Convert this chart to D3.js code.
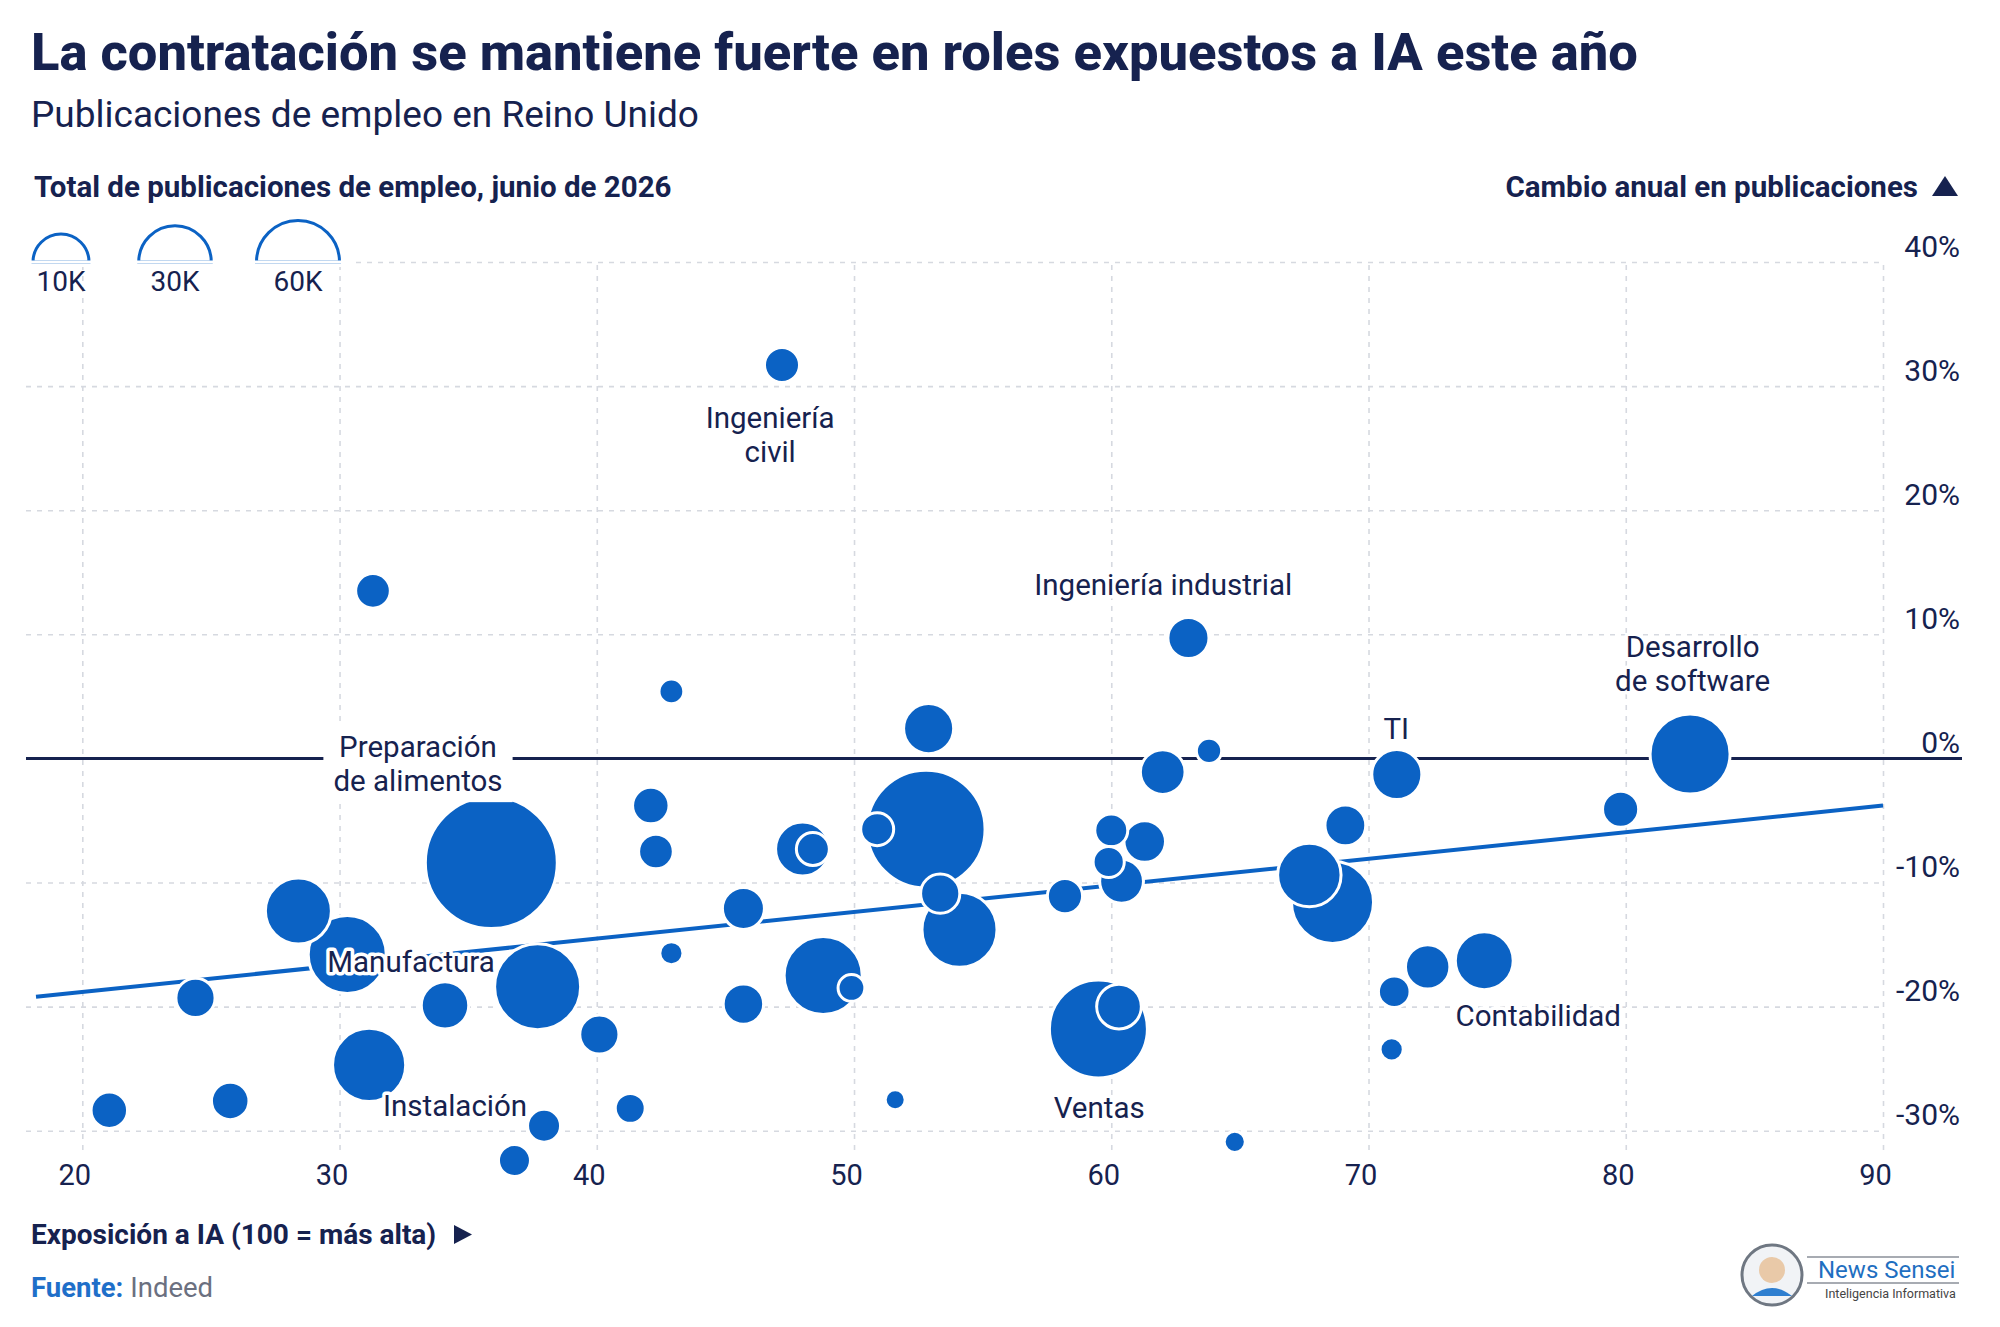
<!DOCTYPE html>
<html>
<head>
<meta charset="utf-8">
<script src="https://cdn.jsdelivr.net/npm/d3@7"></script>
<style>
  body { margin: 0; background: #fff; }
  svg text { font-family: Roboto, "Noto Sans", sans-serif; }
</style>
</head>
<body>
<svg id="chart" width="2000" height="1327"></svg>
<script>
// AI exposure score (x), yearly change in postings % (y), postings in thousands (size)
var exposure = [47.2, 31.3, 63.0, 42.9, 52.9, 63.8, 62.0, 71.1, 82.5, 79.8,
                42.1, 42.3, 48.0, 48.4, 52.8, 50.9, 53.35, 54.1, 35.9, 28.4,
                30.3, 24.4, 34.1, 37.7, 40.1, 31.15, 21.05, 25.75, 41.3, 37.95,
                36.8, 42.9, 45.7, 45.7, 48.8, 49.9, 51.6, 64.8, 59.5, 60.3,
                58.2, 60.0, 61.3, 59.9, 60.4, 69.1, 67.7, 68.6, 72.3, 74.5,
                71.0, 70.9];
var change = [31.7, 13.5, 9.7, 5.4, 2.4, 0.6, -1.1, -1.3, 0.35, -4.1,
              -3.8, -7.5, -7.3, -7.3, -5.7, -5.7, -10.9, -13.8, -8.4, -12.3,
              -15.8, -19.3, -19.9, -18.4, -22.25, -24.7, -28.35, -27.6, -28.2, -29.6,
              -32.4, -15.7, -12.1, -19.8, -17.5, -18.5, -27.5, -30.9, -21.8, -20.0,
              -11.1, -5.8, -6.7, -8.35, -9.9, -5.4, -9.4, -11.6, -16.8, -16.3,
              -18.8, -23.45];
var posts = [4.8, 4.7, 6.6, 2.4, 9.8, 2.5, 7.8, 9.8, 25, 5.1,
             5.2, 4.7, 11.4, 4.25, 54.4, 4.25, 6.0, 22, 68, 17,
             23.8, 6.0, 8.8, 28.9, 6.0, 20.9, 5.2, 5.5, 3.5, 4.25,
             4.0, 2.1, 6.9, 6.4, 23.8, 2.8, 1.56, 1.75, 37.5, 7.8,
             4.84, 4.25, 6.75, 3.8, 7.5, 6.5, 15.7, 26.3, 7.7, 13.1,
             3.9, 2.1];

var xTicks = [20, 30, 40, 50, 60, 70, 80, 90];
var yTicks = [-30, -20, -10, 0, 10, 20, 30, 40];
var sizeLegend = [10, 30, 60];

// fitted trend line
var trendX = [18.2, 90];
var trendY = [-19.2, -3.8];

// role annotations, anchored in data space (centre x, first baseline y)
var labelText = [["Ingeniería", "civil"], ["Ingeniería industrial"], ["Desarrollo", "de software"],
                 ["TI"], ["Preparación", "de alimentos"], ["Manufactura"], ["Instalación"],
                 ["Ventas"], ["Contabilidad"]];
var labelX = [46.74, 62.02, 82.6, 71.08, 33.05, 32.78, 34.49, 59.53, 76.6];
var labelY = [26.6, 13.17, 8.17, 1.56, 0.1, -17.2, -28.8, -29.0, -21.6];
var labelBox = [false, false, false, false, true, false, false, false, false];

var navy = '#16224f',
    blue = '#0b62c4',
    grid = '#d6d9e0';

var svg = d3.select('#chart');
svg.append('rect').attr('width', 2000).attr('height', 1327).attr('fill', '#fff');

var x = d3.scaleLinear().domain([20, 90]).range([82.3, 1883]);
var y = d3.scaleLinear().domain([-30, 40]).range([1130.7, 262]);
var r = d3.scaleSqrt().domain([0, 70]).range([0, 8 * Math.sqrt(70)]);
var plotLeft = 26, plotRight = 1883, gridBottom = 1150;

//titles
svg.append('text').attr('x', 31).attr('y', 70)
    .attr('font-size', 52.5).attr('font-weight', 800).attr('fill', navy)
    .text('La contratación se mantiene fuerte en roles expuestos a IA este año');
svg.append('text').attr('x', 31).attr('y', 127)
    .attr('font-size', 37).attr('fill', navy)
    .text('Publicaciones de empleo en Reino Unido');
svg.append('text').attr('x', 34).attr('y', 197)
    .attr('font-size', 29.5).attr('font-weight', 700).attr('fill', navy)
    .text('Total de publicaciones de empleo, junio de 2026');
svg.append('text').attr('x', 1918).attr('y', 197).attr('text-anchor', 'end')
    .attr('font-size', 29.5).attr('font-weight', 700).attr('fill', navy)
    .text('Cambio anual en publicaciones');
svg.append('path').attr('d', 'M1932,196 L1958,196 L1945,176 Z').attr('fill', navy);

//grid
svg.append('g').attr('class', 'grid')
    .attr('transform', 'translate(' + plotLeft + ',0)')
    .call(d3.axisLeft(y).tickValues(yTicks.filter(function (d) { return d !== 0; }))
        .tickSize(-(plotRight - plotLeft)).tickFormat(''));
svg.append('g').attr('class', 'grid')
    .attr('transform', 'translate(0,' + gridBottom + ')')
    .call(d3.axisBottom(x).tickValues(xTicks).tickSize(-(gridBottom - y(40))).tickFormat(''));
svg.selectAll('.grid .domain').remove();
svg.selectAll('.grid line').attr('stroke', grid).attr('stroke-width', 1.6)
    .attr('stroke-dasharray', '5,6');

//size legend
var legendR = d3.scaleLog().domain([10, 60]).range([28, 41.5]);
var legendX = [61, 175, 298];
var legend = svg.append('g');
legend.append('rect').attr('x', 26).attr('y', 255).attr('width', 330).attr('height', 12).attr('fill', '#fff');
var arc = d3.arc().innerRadius(0).startAngle(-Math.PI / 2).endAngle(Math.PI / 2);
sizeLegend.forEach(function (v, i) {
    legend.append('path')
        .attr('transform', 'translate(' + legendX[i] + ',262)')
        .attr('d', arc.outerRadius(legendR(v))())
        .attr('fill', '#fff').attr('stroke', blue).attr('stroke-width', 3);
    legend.append('path')
        .attr('transform', 'translate(' + legendX[i] + ',262)')
        .attr('d', 'M' + (-legendR(v) - 2) + ',0 L' + (legendR(v) + 2) + ',0')
        .attr('stroke', '#fff').attr('stroke-width', 3);
    legend.append('text').attr('x', legendX[i]).attr('y', 291)
        .attr('text-anchor', 'middle').attr('font-size', 28).attr('fill', navy)
        .text(v + 'K');
});

//zero line and trend
svg.append('line')
    .attr('x1', plotLeft).attr('x2', 1962)
    .attr('y1', y(0)).attr('y2', y(0))
    .attr('stroke', navy).attr('stroke-width', 3);
svg.append('path')
    .datum(d3.zip(trendX, trendY))
    .attr('d', d3.line().x(function (d) { return x(d[0]); }).y(function (d) { return y(d[1]); }))
    .attr('fill', 'none').attr('stroke', blue).attr('stroke-width', 4);

//bubbles, biggest first so small ones sit on top
var bubbles = exposure.map(function (e, i) {
    return { x: e, y: change[i], v: posts[i] };
}).sort(function (a, b) { return b.v - a.v; });

svg.append('g').selectAll('circle')
    .data(bubbles)
    .join('circle')
    .attr('cx', function (d) { return x(d.x); })
    .attr('cy', function (d) { return y(d.y); })
    .attr('r', function (d) { return r(d.v); })
    .attr('fill', blue)
    .attr('stroke', '#fff')
    .attr('stroke-width', 3);

//y axis labels
var yAxis = svg.append('g').attr('transform', 'translate(1960,0)')
    .call(d3.axisLeft(y).tickValues(yTicks).tickSize(0).tickPadding(0)
        .tickFormat(function (d) { return d + '%'; }));
yAxis.select('.domain').remove();
yAxis.selectAll('text').attr('dy', '-0.2em')
    .attr('font-size', 30).attr('fill', navy).attr('font-family', null);

//x axis labels
var xAxis = svg.append('g').attr('transform', 'translate(-8,1185)')
    .call(d3.axisBottom(x).tickValues(xTicks).tickSize(0).tickPadding(0));
xAxis.select('.domain').remove();
xAxis.selectAll('text').attr('y', 0).attr('dy', 0)
    .attr('font-size', 29).attr('fill', navy).attr('font-family', null);

//annotations
var lineH = 34;
labelText.forEach(function (lines, i) {
    var g = svg.append('g');
    var t = g.append('text')
        .attr('text-anchor', 'middle')
        .attr('font-size', 29.5).attr('fill', navy);
    lines.forEach(function (s, j) {
        t.append('tspan').attr('x', x(labelX[i])).attr('y', y(labelY[i]) + j * lineH).text(s);
    });
    if (labelBox[i]) {
        var bb = t.node().getBBox();
        g.insert('rect', 'text')
            .attr('x', bb.x - 10).attr('y', bb.y - 4)
            .attr('width', bb.width + 20).attr('height', bb.height + 8)
            .attr('fill', '#fff');
    } else {
        t.attr('stroke', '#fff').attr('stroke-width', 7)
            .attr('stroke-linejoin', 'round').attr('paint-order', 'stroke');
    }
});

//footer
svg.append('text').attr('x', 31).attr('y', 1244)
    .attr('font-size', 28).attr('font-weight', 700).attr('fill', navy)
    .text('Exposición a IA (100 = más alta)');
svg.append('path').attr('d', 'M454,1225 L472,1234.5 L454,1244 Z').attr('fill', navy);

var src = svg.append('text').attr('x', 31).attr('y', 1297).attr('font-size', 27.5);
src.append('tspan').attr('font-weight', 700).attr('fill', '#1f6fc9').text('Fuente: ');
src.append('tspan').attr('fill', '#6b7080').text('Indeed');

//logo
var logo = svg.append('g');
logo.append('circle').attr('cx', 1772).attr('cy', 1275).attr('r', 30)
    .attr('fill', '#f1f3f6').attr('stroke', '#6f7782').attr('stroke-width', 3);
logo.append('circle').attr('cx', 1772).attr('cy', 1270).attr('r', 13).attr('fill', '#e9c9a8');
logo.append('path').attr('d', 'M1752,1296 Q1772,1280 1792,1296 Z').attr('fill', '#2f7fd0');
logo.append('path').attr('d', 'M1807,1257 L1959,1257 M1807,1283 L1959,1283')
    .attr('stroke', '#8a9099').attr('stroke-width', 1.5);
logo.append('text').attr('x', 1818).attr('y', 1278)
    .attr('font-size', 24).attr('fill', '#1f6fc1').text('News Sensei');
logo.append('text').attr('x', 1825).attr('y', 1298)
    .attr('font-size', 12.5).attr('fill', '#444').text('Inteligencia Informativa');
</script>
</body>
</html>
